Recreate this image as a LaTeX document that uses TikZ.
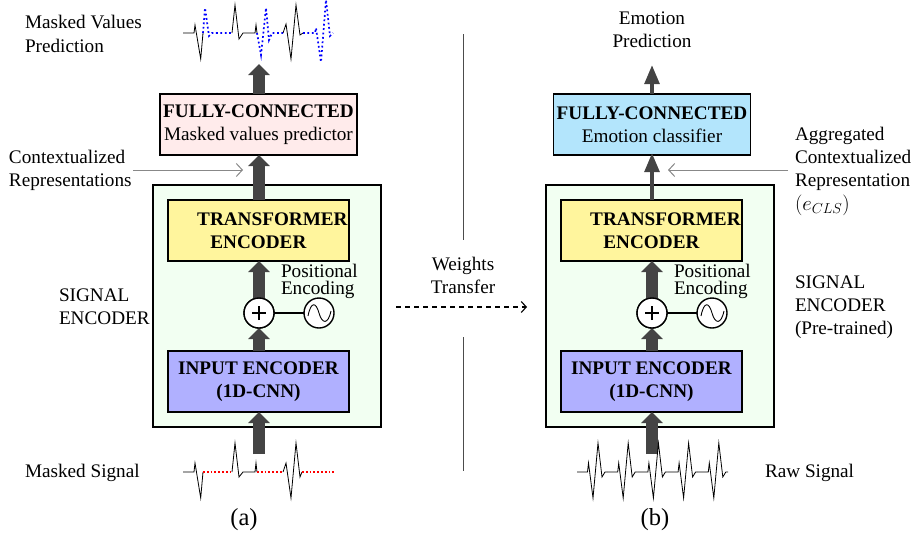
\documentclass[tikz,border=0pt]{standalone}
\usepackage{fontspec}
\setmainfont{Liberation Serif}
\usetikzlibrary{arrows.meta,positioning}
\definecolor{arrowdark}{HTML}{444444}
\definecolor{pinkbox}{HTML}{FFEBEB}
\definecolor{bluebox}{HTML}{B3E5FC}
\definecolor{yellowbox}{HTML}{FFF59D}
\definecolor{violetbox}{HTML}{B0B0FF}
\definecolor{greenbox}{HTML}{F2FFF2}
\definecolor{guide}{HTML}{888888}
\tikzset{
  x=1pt,y=-1pt,
  every node/.style={font=\fontsize{19.2}{23.3}\selectfont,inner sep=0pt,outer sep=0pt},
  label text/.style={align=left,anchor=west},
  center text/.style={align=center,anchor=center},
  outerbox/.style={draw=black,line width=1.8pt,fill=greenbox,minimum width=228pt,minimum height=242pt},
  fcbox/.style={draw=black,line width=1.8pt,minimum width=197pt,minimum height=61pt,align=center},
  innerbox/.style={draw=black,line width=1.4pt,minimum width=181pt,minimum height=61pt,align=center},
  fat/.style={arrowdark,line width=12.5pt,-{Triangle[length=11pt,width=21pt]}},
  slim/.style={arrowdark,line width=4pt,-{Triangle[length=19pt,width=14.5pt]}},
  guideline/.style={guide,line width=1pt,-{Straight Barb[length=6pt,width=13pt]}},
  sum/.style={circle,draw=black,line width=1.4pt,fill=white,minimum size=30pt},
  wave/.style={black,line width=.8pt},
  bluemask/.style={blue,line width=1.7pt,dash pattern=on 1.8pt off 2.6pt},
  redmask/.style={red,line width=1.2pt,dash pattern=on 1.8pt off 2pt},
  divider/.style={black!70,line width=.8pt},
}
\newcommand{\plusmark}[1]{\draw[line width=1.1pt] ([xshift=-7pt]#1.center) -- ([xshift=7pt]#1.center) ([yshift=-7pt]#1.center) -- ([yshift=7pt]#1.center);}
\newcommand{\sinemark}[1]{\draw[line width=.9pt] ([shift={(-11,3)}]#1.center) .. controls ([shift={(-8,-12)}]#1.center) and ([shift={(-3,-11)}]#1.center) .. (#1.center) .. controls ([shift={(3,11)}]#1.center) and ([shift={(9,12)}]#1.center) .. ([shift={(12,-2)}]#1.center);}
\begin{document}
\begin{tikzpicture}
\useasboundingbox (0,0) rectangle (912,533);
% left column boxes
\node[outerbox] (encA) at (267,306) {};
\node[fcbox,fill=pinkbox] (fcA) at (258.5,124.5) {\textbf{FULLY-CONNECTED}\\Masked values predictor};
\node[innerbox,fill=yellowbox] (trA) at (258.5,230.5) {\hspace*{28pt}\textbf{TRANSFORMER}\\\textbf{ENCODER}};
\node[innerbox,fill=violetbox] (inA) at (258.5,381.5) {\textbf{INPUT ENCODER}\\\textbf{(1D-CNN)}};
\node[sum] (plusA) at (259,313) {};
\node[sum] (sinA) at (319,313) {};
\coordinate (outA) at (259,64);
\coordinate (srcA) at (259,454);
% right column boxes
\node[outerbox] (encB) at (660,306) {};
\node[fcbox,fill=bluebox] (fcB) at (652,124.5) {\textbf{FULLY-CONNECTED}\\Emotion classifier};
\node[innerbox,fill=yellowbox] (trB) at (651.5,230.5) {\hspace*{28pt}\textbf{TRANSFORMER}\\\textbf{ENCODER}};
\node[innerbox,fill=violetbox] (inB) at (651.5,381.5) {\textbf{INPUT ENCODER}\\\textbf{(1D-CNN)}};
\node[sum] (plusB) at (652,313) {};
\node[sum] (sinB) at (712,313) {};
\coordinate (outB) at (652,65);
\coordinate (srcB) at (652,454);
% connectors left
\draw[fat] (fcA.north -| outA) -- (outA);
\draw[fat] (trA.north -| outA) -- (fcA.south -| outA);
\draw[fat] (plusA) -- (trA.south -| plusA);
\draw[fat] (inA.north -| plusA) -- (plusA.south);
\draw[fat] (srcA) -- (inA.south -| srcA);
\node[sum] at (plusA) {};
\plusmark{plusA}
\sinemark{sinA}
\draw[line width=1.2pt] (plusA) ++(15,0) -- (sinA.west);
% connectors right
\draw[slim] (fcB.north -| outB) -- (outB);
\draw[slim] (trB.north -| outB) -- ([yshift=2pt]fcB.south -| outB);
\draw[fat] (plusB) -- (trB.south -| plusB);
\draw[fat] (inB.north -| plusB) -- (plusB.south);
\draw[fat] (srcB) -- (inB.south -| srcB);
\node[sum] at (plusB) {};
\plusmark{plusB}
\sinemark{sinB}
\draw[line width=1.2pt] (plusB) ++(15,0) -- (sinB.west);
% text labels
\node[label text] (lmvp) at (25,34) {Masked Values\\Prediction};
\node[label text] (lctx) at (9,170.5) {Contextualized\\Representations};
\node[label text] (lsig) at (59,306.5) {SIGNAL\\ENCODER};
\node[label text] (lmsk) at (25,473) {Masked Signal};
\node[center text] (la) at (244,520) {\fontsize{24.5}{28}\selectfont (a)};
\node[center text] (lb) at (655,520) {\fontsize{24.5}{28}\selectfont (b)};
\node[center text] (lemo) at (652,29.5) {Emotion\\Prediction};
\node[label text] (lagg) at (795,171) {Aggregated\\Contextualized\\Representation\\$(e_{CLS})$};
\node[label text] (lsigb) at (795,307) {SIGNAL\\ENCODER\\(Pre-trained)};
\node[label text] (lraw) at (765,473) {Raw Signal};
\node[center text] (lwt) at (463,275.5) {Weights\\Transfer};
\node[label text,font=\fontsize{19.2}{17}\selectfont] (lposA) at (281,281.5) {Positional\\Encoding};
\node[label text,font=\fontsize{19.2}{17}\selectfont] (lposB) at (674,281.5) {Positional\\Encoding};
% guide arrows
\coordinate (gA) at (243,170);
\coordinate (gB) at (668,170);
\draw[guideline] (133,170) -- (gA);
\draw[guideline] (788,170) -- (gB);
% divider and transfer
\coordinate (divT) at (463,34);
\coordinate (divB) at (463,471);
\draw[divider] (divT) -- (463,240);
\draw[divider] (463,337) -- (divB);
\draw[line width=1.1pt,dash pattern=on 5pt off 4pt,-{Straight Barb[length=5pt,width=11pt]}] (396,307) -- (527,307);
% predicted signal (top)
\draw[wave] (183,33) -- (194,33) -- (195,25) -- (200.7,59) -- (203,33);
\draw[bluemask] (203,33) -- (205,8) -- (209,36) -- (212,33) -- (232,33);
\draw[wave] (232,33) -- (235,5) -- (239,39) -- (243,33) -- (255,33) -- (256,25) -- (257,33);
\draw[bluemask] (257,33) -- (261,55) -- (266,8) -- (269,40) -- (272,33) -- (283,33);
\draw[wave] (283,33) -- (286,24) -- (291,59) -- (296,5) -- (300,35) -- (303,33);
\draw[bluemask] (303,33) -- (315,33) -- (316,28) -- (321,62) -- (326,0) -- (330,36) -- (333,33);
% masked signal
\draw[wave] (183,472) -- (194,472) -- (195,463) -- (200.7,498) -- (203,472);
\draw[redmask] (203,472) -- (232,472);
\draw[wave] (232,472) -- (235,443) -- (239,477) -- (243,472) -- (255,472) -- (256,463) -- (257,472);
\draw[redmask] (257,472) -- (283,472);
\draw[wave] (283,472) -- (286,463) -- (291,498) -- (296,443) -- (300,477) -- (302,472);
\draw[redmask] (302,472) -- (334,472);
% raw signal
\foreach \i in {0,...,4}{
  \pgfmathsetmacro{\xa}{577+30.2*\i}
  \draw[wave] (\xa,472) -- (\xa+10.5,472) -- (\xa+11.5,463) -- (\xa+16,498) -- (\xa+21,443) -- (\xa+25,477) -- (\xa+28,472) -- (\xa+30.2,472);
}
\end{tikzpicture}
\end{document}
